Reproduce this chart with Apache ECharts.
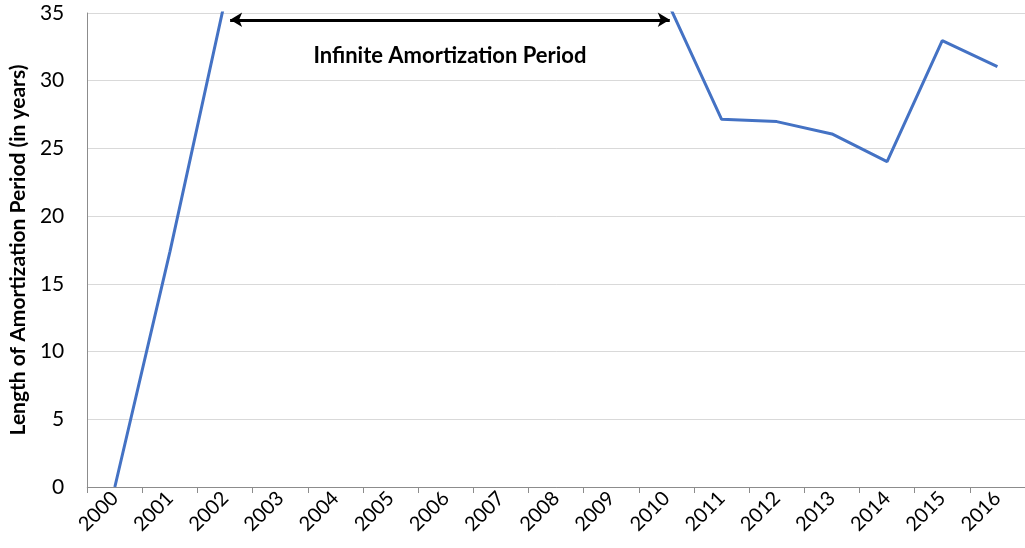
<!DOCTYPE html>
<html>
<head>
<meta charset="utf-8">
<script src="https://cdn.jsdelivr.net/npm/echarts@6/dist/echarts.min.js"></script>
<style>
  html, body { margin: 0; padding: 0; background: #fff; }
  #chart { width: 1025px; height: 548px; }
</style>
</head>
<body>
<div id="chart"></div>
<script>
// 数据
const years = ['2000', '2001', '2002', '2003', '2004', '2005', '2006', '2007', '2008',
  '2009', '2010', '2011', '2012', '2013', '2014', '2015', '2016']
// null = 无限摊销期（线条在图外）
const periods = [0, 17.4, 36, null, null, null, null, null, null, null, 36, 27.15, 26.98, 26.07, 24.03, 32.96, 31.04]
const yTicks = [0, 5, 10, 15, 20, 25, 30, 35]
// 箭头：按类目序号 (0 = 2000) 的起止位置和高度
const arrowFrom = 2.09
const arrowTo = 10.06
const arrowLevel = 34.5
const arrowText = 'Infinite Amortization Period'

const chart = echarts.init(document.getElementById('chart'))

const font = 'Lato, "Open Sans", sans-serif'

const option = {
  animation: false,
  grid: {
    left: 85,
    right: -14,
    top: 13,
    bottom: 61
  },
  xAxis: [
    {
      type: 'category',
      data: years,
      boundaryGap: true,
      axisLine: { onZero: false, lineStyle: { color: '#8c8c8c', width: 1 } },
      axisTick: { show: true, length: 6, lineStyle: { color: '#8c8c8c' } },
      axisLabel: {
        rotate: 45,
        interval: 0,
        fontFamily: font,
        fontSize: 20,
        color: '#000',
        margin: 8
      },
      splitLine: { show: false }
    },
    {
      // 隐藏的数值轴，用于放置箭头
      type: 'value',
      min: -0.5,
      max: years.length - 0.5,
      show: false
    }
  ],
  yAxis: {
    type: 'value',
    min: yTicks[0],
    max: yTicks[yTicks.length - 1],
    interval: 5,
    name: 'Length of Amortization Period (in years)',
    nameLocation: 'middle',
    nameGap: 58,
    nameTextStyle: {
      fontFamily: font,
      fontSize: 21,
      fontWeight: 'bold',
      color: '#000'
    },
    axisLine: { show: true, onZero: false, lineStyle: { color: '#8c8c8c', width: 1 } },
    axisTick: { show: false },
    axisLabel: {
      fontFamily: font,
      fontSize: 21,
      color: '#000',
      margin: 23
    },
    splitLine: { lineStyle: { color: '#d9d9d9', width: 1 } }
  },
  series: [
    {
      name: 'Amortization',
      type: 'line',
      data: periods,
      xAxisIndex: 0,
      showSymbol: false,
      symbol: 'none',
      clip: true,
      connectNulls: false,
      lineStyle: { color: '#4472C4', width: 3 },
      itemStyle: { color: '#4472C4' }
    },
    {
      name: 'arrow',
      type: 'line',
      xAxisIndex: 1,
      data: [],
      symbol: 'none',
      markLine: {
        silent: true,
        symbol: ['arrow', 'arrow'],
        symbolSize: [11, 12],
        lineStyle: { color: '#000', width: 3, type: 'solid' },
        label: {
          show: true,
          position: 'middle',
          formatter: arrowText,
          fontFamily: font,
          fontSize: 22,
          fontWeight: 'bold',
          color: '#000',
          offset: [0, 52]
        },
        data: [
          [
            { coord: [arrowFrom, arrowLevel] },
            { coord: [arrowTo, arrowLevel] }
          ]
        ]
      }
    }
  ]
}

chart.setOption(option)
</script>
</body>
</html>
